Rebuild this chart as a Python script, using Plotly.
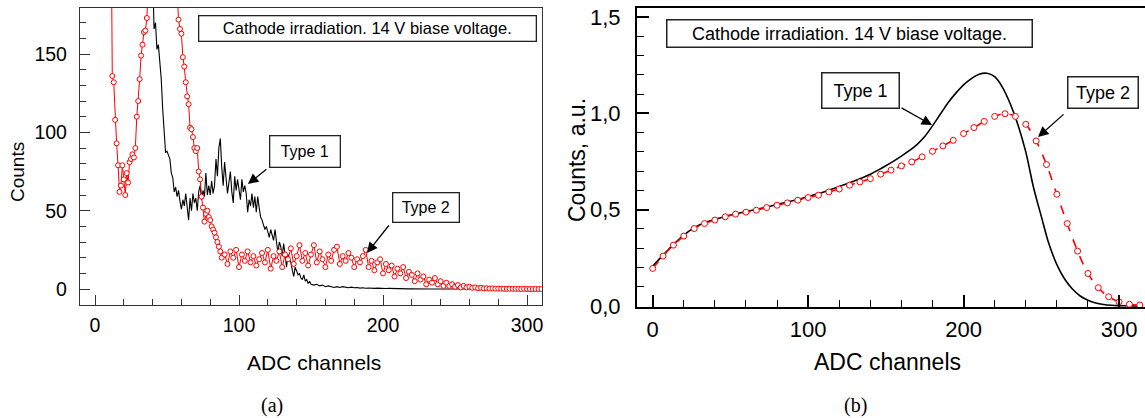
import plotly.graph_objects as go

W, H = 1145, 418

# ---------------- Panel (a): raw spectra ----------------
type1_a_x = list(range(39, 151)) + list(range(152, 311, 2))
type1_a_y = [
    240, 195, 166, 170, 153, 156, 147, 134, 115, 100,
    87, 88, 85, 83, 74, 71, 62, 65, 59, 63,
    56, 51, 57, 53, 61, 52, 44, 58, 50, 61,
    55, 58, 50, 62, 66, 57, 63, 59, 74, 60,
    66, 60, 69, 61, 66, 83, 72, 90, 96, 78,
    66, 81, 70, 61, 68, 75, 62, 55, 72, 63,
    70, 64, 57, 70, 62, 66, 61, 49, 57, 53,
    61, 52, 59, 49, 59, 52, 46, 44, 41, 38,
    40, 36, 33, 38, 34, 31, 38, 29, 23, 30,
    27, 21, 29, 22, 14, 22, 19, 17, 12, 8,
    14, 11, 9, 10, 7, 6, 9, 5, 6, 3.5,
    5, 3,
    2.5, 3, 2, 2.5, 1.5, 2, 1.5, 1, 1.5, 1,
    1.5, 1, 0.8, 1.2, 0.8, 1, 0.6, 0.8, 0.5, 0.7,
    0.5, 0.4, 0.6, 0.4, 0.5, 0.3, 0.4, 0.3, 0.3, 0.2,
    0.3, 0.2, 0.2, 0.1, 0.2, 0.1, 0.1, 0.1, 0.1, 0,
    0, 0, 0, 0, 0, 0, 0, 0, 0, 0,
    0, 0, 0, 0, 0, 0, 0, 0, 0, 0,
    0, 0, 0, 0, 0, 0, 0, 0, 0, 0,
    0, 0, 0, 0, 0, 0, 0, 0, 0, 0,
]

type2_a_x = list(range(11, 89)) + list(range(90, 311, 2))
type2_a_y = [
    260, 136, 132, 108, 93, 79, 62, 66, 79, 70,
    60, 74, 68, 81, 83, 86, 84, 90, 110, 120,
    134, 149, 156, 164, 165, 173, 195, 230, 280, 330,
    380, 420, 440, 430, 400, 380, 360, 340, 320, 300,
    280, 260, 240, 225, 210, 198, 190, 172, 166, 163,
    148, 142, 132, 123, 118, 103, 102, 97, 90, 88,
    90, 75, 70, 59, 52, 43, 48, 50, 46, 44,
    40, 38, 36, 33, 30, 27, 24, 20,
    22, 16, 24, 20, 25, 14, 22, 18, 24, 17,
    21, 15, 19, 23, 17, 25, 13, 21, 18, 24,
    14, 22, 19, 26, 16, 21, 28, 18, 23, 15,
    22, 28, 17, 24, 19, 14, 22, 18, 25, 27,
    16, 21, 18, 23, 20, 14, 19, 17, 21, 25,
    14, 18, 12, 17, 19, 10, 16, 12, 15, 8,
    13, 10, 14, 7, 11, 9, 5, 10, 6, 8,
    3, 6, 4, 7, 3, 5, 2, 4, 2, 3,
    1.5, 2.5, 1, 2, 1, 1.5, 0.8, 1, 0.5, 0.8,
    0.4, 0.5, 0.3, 0.4, 0.2, 0.3, 0.2, 0.2, 0.1, 0.2,
    0.1, 0.1, 0.1, 0, 0.1, 0, 0, 0, 0, 0, 0,
]

# ---------------- Panel (b): normalised spectra ----------------
type1_b_x = [0, 5, 10, 15, 20, 25, 30, 35, 40, 45, 50, 55, 60, 65, 70, 75,
             80, 85, 90, 95, 100, 105, 110, 115, 120, 125, 130, 135, 140, 145,
             150, 155, 160, 165, 170, 175, 180, 185, 190, 195, 200, 205, 210,
             215, 220, 225, 230, 235, 240, 245, 250, 255, 260, 265, 270, 275,
             280, 285, 290, 295, 300, 305, 310, 315]
type1_b_y = [0.207, 0.250, 0.292, 0.332, 0.368, 0.398, 0.420, 0.437, 0.450, 0.461,
             0.472, 0.481, 0.490, 0.498, 0.507, 0.517, 0.527, 0.536, 0.546, 0.557,
             0.568, 0.580, 0.592, 0.606, 0.620, 0.634, 0.650, 0.666, 0.684, 0.705,
             0.728, 0.752, 0.778, 0.806, 0.838, 0.880, 0.935, 0.995, 1.055, 1.105,
             1.148, 1.180, 1.203, 1.208, 1.190, 1.135, 1.050, 0.940, 0.800, 0.615,
             0.465, 0.320, 0.215, 0.140, 0.088, 0.052, 0.030, 0.016, 0.008, 0.004,
             0.002, 0.001, 0.0, 0.0]

type2_b_x = [0, 6.67, 13.33, 20, 26.67, 33.33, 40, 46.67, 53.33, 60, 66.67, 73.33,
             80, 86.67, 93.33, 100, 106.67, 113.33, 120, 126.67, 133.33, 140,
             146.67, 153.33, 160, 166.67, 173.33, 180, 186.67, 193.33, 200,
             206.67, 213.33, 220, 226.67, 233.33, 240, 246.67, 253.33, 260,
             266.67, 273.33, 280, 286.67, 293.33, 300, 306.67, 313.33]
type2_b_y = [0.195, 0.259, 0.316, 0.363, 0.402, 0.428, 0.446, 0.463, 0.477, 0.487,
             0.497, 0.511, 0.523, 0.535, 0.549, 0.563, 0.575, 0.592, 0.607, 0.627,
             0.644, 0.661, 0.684, 0.705, 0.727, 0.748, 0.774, 0.803, 0.831, 0.860,
             0.895, 0.926, 0.958, 0.984, 0.998, 0.984, 0.943, 0.857, 0.734, 0.580,
             0.428, 0.285, 0.169, 0.095, 0.048, 0.022, 0.009, 0.005]

box_text = "Cathode irradiation. 14 V biase voltage."
FONT = "Liberation Sans, Arial, sans-serif"


def px(x, y):
    return x / W, 1 - y / H


fig = go.Figure()

fig.add_trace(go.Scatter(x=type1_a_x, y=type1_a_y, mode="lines",
                         line=dict(color="black", width=1.1),
                         xaxis="x", yaxis="y", showlegend=False))
fig.add_trace(go.Scatter(x=type2_a_x, y=type2_a_y, mode="lines+markers",
                         line=dict(color="red", width=1),
                         marker=dict(symbol="circle", size=5, color="white",
                                     line=dict(color="red", width=1)),
                         xaxis="x", yaxis="y", showlegend=False))

fig.add_trace(go.Scatter(x=type1_b_x, y=type1_b_y, mode="lines",
                         line=dict(color="black", width=1.6, shape="spline"),
                         xaxis="x2", yaxis="y2", showlegend=False))
fig.add_trace(go.Scatter(x=type2_b_x, y=type2_b_y, mode="lines+markers",
                         line=dict(color="red", width=1.6, dash="dash", shape="spline"),
                         marker=dict(symbol="circle", size=6, color="white",
                                     line=dict(color="red", width=1)),
                         xaxis="x2", yaxis="y2", showlegend=False))

axcol_a = "#333333"
common_a = dict(showline=True, linecolor=axcol_a, linewidth=1.3, mirror=True,
                ticks="inside", ticklen=10, tickwidth=1.2, tickcolor=axcol_a,
                showgrid=False, zeroline=False, automargin=False,
                tickfont=dict(family=FONT, size=19.5, color="black"))
common_b = dict(showline=True, linecolor="black", linewidth=2,
                ticks="inside", ticklen=12, tickwidth=1.5, tickcolor="black",
                showgrid=False, zeroline=False, automargin=False,
                tickfont=dict(family=FONT, size=22, color="black"))

fig.update_layout(
    width=W, height=H, margin=dict(l=0, r=0, t=0, b=0, pad=0, autoexpand=False),
    paper_bgcolor="white", plot_bgcolor="white",
    separators=", ",
    xaxis=dict(domain=[80 / W, 542 / W], range=[-10.42, 310.4], tick0=0, dtick=100,
               minor=dict(dtick=20, tick0=0, ticks="inside", ticklen=6, tickwidth=1.1,
                          tickcolor=axcol_a),
               ticklabelstandoff=2, anchor="y", **common_a),
    yaxis=dict(domain=[(H - 305) / H, (H - 8) / H], range=[-10.2, 179.4], tick0=0, dtick=50,
               minor=dict(dtick=10, tick0=0, ticks="inside", ticklen=6, tickwidth=1.1,
                          tickcolor=axcol_a),
               ticklabelstandoff=8, anchor="x", **common_a),
    xaxis2=dict(domain=[637 / W, 1.0], range=[-10.1, 316.7], tick0=0, dtick=100,
                mirror=True,
                minor=dict(dtick=20, tick0=0, ticks="inside", ticklen=7, tickwidth=1.3,
                           tickcolor="black"),
                ticklabelstandoff=2, anchor="y2", **common_b),
    yaxis2=dict(domain=[(H - 307) / H, (H - 8) / H], range=[-0.0052, 1.5467], tick0=0,
                dtick=0.5, tickformat=".1f", mirror=False,
                minor=dict(dtick=0.1, tick0=0, ticks="inside", ticklen=7, tickwidth=1.3,
                           tickcolor="black"),
                ticklabelstandoff=10, anchor="x2", **common_b),
)

ann = []


def box(cx, cy, w, h, text, size, bw):
    x, y = px(cx, cy)
    ann.append(dict(xref="paper", yref="paper", x=x, y=y, xanchor="center",
                    yanchor="middle", text=text, showarrow=False,
                    font=dict(family=FONT, size=size, color="black"),
                    bgcolor="white", bordercolor="#222222", borderwidth=bw,
                    borderpad=0, width=w, height=h))


def label(cx, cy, text, size, angle=0, family=FONT):
    x, y = px(cx, cy)
    ann.append(dict(xref="paper", yref="paper", x=x, y=y, xanchor="center",
                    yanchor="middle", text=text, showarrow=False, textangle=angle,
                    font=dict(family=family, size=size, color="black")))


def arrow(xr, yr, tx, ty, ax, ay):
    ann.append(dict(xref=xr, yref=yr, x=tx, y=ty, ax=ax, ay=ay, text="",
                    showarrow=True, arrowhead=2, arrowsize=1.6, arrowwidth=1.3,
                    arrowcolor="black"))


# panel (a) boxes
box(367, 29, 336, 24, box_text, 16.5, 1.3)
box(304.5, 151, 69, 30, "Type 1", 16, 1.3)
box(425.5, 208, 65, 28, "Type 2", 16, 1.3)
arrow("x", "y", 106.2, 67, 20, -16)
arrow("x", "y", 188.9, 23, 23, -29)

# panel (b) boxes
box(849, 33, 364, 26, box_text, 18, 1.5)
box(860, 90, 76, 34, "Type 1", 18, 1.5)
box(1102.5, 92, 69, 30, "Type 2", 18, 1.5)
arrow("x2", "y2", 179.7, 0.939, -32, -18)
arrow("x2", "y2", 247.9, 0.877, 27, -24)

# axis titles
label(314, 362, "ADC channels", 21)
label(18, 172, "Counts", 19, angle=-90)
label(887, 362, "ADC channels", 23)
label(577, 160, "Counts, a.u.", 23, angle=-90)

# captions
label(272, 405, "(a)", 20, family="Liberation Serif, Times New Roman, serif")
label(855, 405, "(b)", 20, family="Liberation Serif, Times New Roman, serif")

fig.update_layout(annotations=ann)

fig.write_html(
    "out.html",
    config={"displayModeBar": False},
    post_script="document.body.style.margin='0';document.body.style.padding='0';"
                "document.body.style.overflow='hidden';",
)
